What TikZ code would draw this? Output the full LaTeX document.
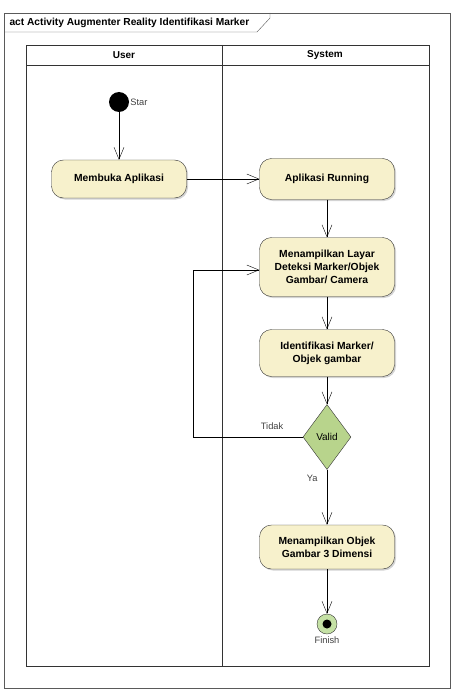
\documentclass[tikz,border=0pt]{standalone}
\usepackage{fontspec}
\setmainfont{Liberation Sans}
\usetikzlibrary{shapes.geometric,arrows.meta,shadows}

\definecolor{actfill}{RGB}{247,241,204}
\definecolor{decfill}{RGB}{184,212,140}
\definecolor{endfill}{RGB}{197,225,165}
\definecolor{framegray}{RGB}{90,90,90}

\begin{document}
\begin{tikzpicture}[x=1pt,y=-1pt,>={Straight Barb[length=12pt,width=10pt]},
	activity/.style={rounded corners=12pt,minimum width=135pt,draw=black!80,fill=actfill,
		drop shadow={shadow xshift=1.5pt,shadow yshift=-1.5pt,opacity=0.35},
		align=center,font=\fontsize{10.3}{13}\selectfont\bfseries},
	decision/.style={diamond,aspect=0.74,minimum width=48pt,minimum height=65pt,inner sep=0pt,
		draw=black!80,fill=decfill,font=\fontsize{10}{12}\selectfont},
	lbl/.style={text=black!75,font=\fontsize{9.3}{11}\selectfont}]

	\useasboundingbox (0,0) rectangle (453,695);

	% frame and title tab
	\draw[framegray] (4,13) rectangle (450,688);
	\draw[framegray] (4,32) -- (257,32) -- (270,18) -- (270,13);
	\node[anchor=west,font=\fontsize{10.2}{12}\selectfont\bfseries] (title) at (6,22.5) {act Activity Augmenter Reality Identifikasi Marker};

	% swimlanes
	\draw[black!80] (26,45) rectangle (429,666);
	\draw[black!80] (26,65) -- (429,65);
	\draw[black!80] (222,45) -- (222,666);
	\node[font=\fontsize{10}{12}\selectfont\bfseries] (user) at (124,55) {User};
	\node[font=\fontsize{10}{12}\selectfont\bfseries] (system) at (325,55) {System};

	% nodes
	\node[circle,fill=black,minimum size=20pt,inner sep=0pt] (start) at (119,102) {};
	\node[lbl,anchor=west,inner sep=1pt] (startlbl) at (start.east) {Star};
	\node[activity,minimum height=38pt] (membuka) [below of=start, node distance=77pt] {Membuka Aplikasi};
	\node[activity,minimum height=41pt] (running) [right of=membuka, node distance=208pt] {Aplikasi Running};
	\node[activity,minimum height=59pt] (layar) [below of=running, node distance=88pt] {Menampilkan Layar\\Deteksi Marker/Objek\\Gambar/ Camera};
	\node[activity,minimum height=47pt] (identifikasi) [below of=layar, node distance=86pt] {Identifikasi Marker/\\Objek gambar};
	\node[decision] (valid) [below of=identifikasi, node distance=84pt] {Valid};
	\node[activity,minimum height=44pt] (objek) [below of=valid, node distance=110pt] {Menampilkan Objek\\Gambar 3 Dimensi};
	\node[circle,draw=black!80,fill=endfill,minimum size=20pt,inner sep=0pt] (finish) [below of=objek, node distance=77pt] {};
	\node[circle,fill=black,minimum size=9pt,inner sep=0pt] (finishdot) at (finish) {};
	\node[lbl,anchor=north,inner sep=2pt] (finishlbl) at (finish.south) {Finish};
	\node[lbl,anchor=south east,xshift=-16pt,yshift=4pt] (tidak) at (valid.west) {Tidak};
	\node[lbl,anchor=north east,xshift=-6pt,yshift=-2pt] (ya) at (valid.south) {Ya};

	% flows
	\path[->] (start) edge (membuka);
	\path[->] (membuka) edge (running);
	\path[->] (running) edge (layar);
	\path[->] (layar) edge (identifikasi);
	\path[->] (identifikasi) edge (valid);
	\path[->] (valid) edge (objek);
	\path[->] (objek) edge (finish);
	\draw[->] (valid.west) -- (193,437) |- (layar.west |- 0,270);

\end{tikzpicture}
\end{document}
